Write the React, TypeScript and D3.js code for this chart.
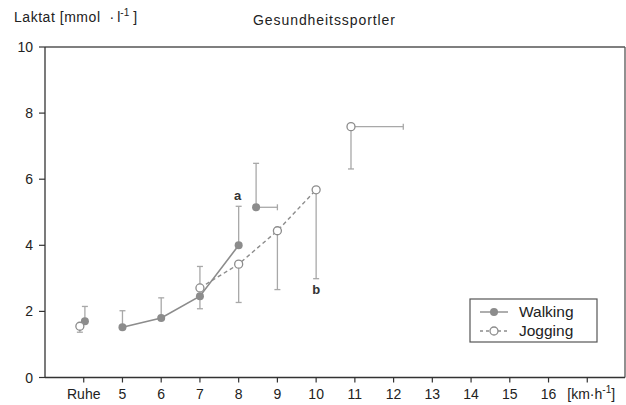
import React from "react";
import * as d3 from "d3";

const xTicks = [4, 5, 6, 7, 8, 9, 10, 11, 12, 13, 14, 15, 16, 17];
const xTickLabels = ["Ruhe", "5", "6", "7", "8", "9", "10", "11", "12", "13", "14", "15", "16", ""];
const yTicks = [0, 2, 4, 6, 8, 10];

// Walking series (filled markers): speed, lactate, SD up/down
const walkSpeed = [5, 6, 7, 8];
const walkLactate = [1.52, 1.8, 2.46, 4.0];
const walkErrUp = [2.02, 2.41, 2.46, 5.18];
const walkErrDown = [1.52, 1.8, 2.08, 4.0];

// Jogging series (open markers)
const jogSpeed = [7, 8, 9, 10];
const jogLactate = [2.71, 3.43, 4.44, 5.68];
const jogErrUp = [3.36, 3.43, 4.44, 5.68];
const jogErrDown = [2.71, 2.27, 2.66, 2.99];

// Rest values
const restWalk = { x: 4.03, y: 1.7, hi: 2.15 };
const restJog = { x: 3.9, y: 1.55, lo: 1.37 };

// Max values (with speed SD to the right)
const maxWalk = { x: 8.45, y: 5.15, xHi: 9.0, yHi: 6.48 };
const maxJog = { x: 10.9, y: 7.59, xHi: 12.25, yLo: 6.31 };

const W = 626;
const H = 405;

export default function App() {
  const x = d3.scaleLinear().domain([3, 18]).range([45, 626]);
  const y = d3.scaleLinear().domain([0, 10]).range([377.5, 47]);
  const line = d3
    .line<[number, number]>()
    .x((d) => x(d[0]))
    .y((d) => y(d[1]));

  const axisCol = "#333";
  const markCol = "#8c8c8c";
  const errCol = "#a8a8a8";
  const font = "'Liberation Sans', Arial, sans-serif";

  const walkPts: [number, number][] = walkSpeed.map((s, i) => [s, walkLactate[i]]);
  const jogPts: [number, number][] = jogSpeed.map((s, i) => [s, jogLactate[i]]);

  const vErr = (xv: number, y1: number, y2: number, key: string) => (
    <g key={key}>
      <line x1={x(xv)} x2={x(xv)} y1={y(y1)} y2={y(y2)} stroke={errCol} strokeWidth={1.3} />
      <line x1={x(xv) - 3} x2={x(xv) + 3} y1={y(y2)} y2={y(y2)} stroke={errCol} strokeWidth={1.3} />
    </g>
  );
  const hErr = (x1: number, x2: number, yv: number, key: string) => (
    <g key={key}>
      <line x1={x(x1)} x2={x(x2)} y1={y(yv)} y2={y(yv)} stroke={errCol} strokeWidth={1.3} />
      <line x1={x(x2)} x2={x(x2)} y1={y(yv) - 3} y2={y(yv) + 3} stroke={errCol} strokeWidth={1.3} />
    </g>
  );

  return (
    <svg width={W} height={H} style={{ position: "absolute", left: 0, top: 0, background: "#fff" }} fontFamily={font}>
      {/* titles */}
      <text x={14} y={22} fontSize={14} fill="#222">
        <tspan textLength={86} lengthAdjust="spacing">Laktat [mmol</tspan>
        <tspan dx={9}>·</tspan>
        <tspan dx={3}>l</tspan>
        <tspan dy={-6} fontSize={10}>-1</tspan>
        <tspan dy={6} dx={4}>]</tspan>
      </text>
      <text x={253} y={25} fontSize={14} fill="#222" textLength={142} lengthAdjust="spacing">
        Gesundheitssportler
      </text>

      {/* frame */}
      <line x1={x(3)} x2={x(18) - 1} y1={y(10)} y2={y(10)} stroke="#555" strokeWidth={1.3} />
      <line x1={x(18) - 1} x2={x(18) - 1} y1={y(10)} y2={y(0)} stroke="#555" strokeWidth={1.3} />
      <line x1={x(3)} x2={x(3)} y1={y(10)} y2={y(0)} stroke={axisCol} strokeWidth={1.3} />
      <line x1={x(3)} x2={x(18) - 1} y1={y(0)} y2={y(0)} stroke={axisCol} strokeWidth={1.3} />

      {/* y ticks */}
      {yTicks.map((t) => (
        <g key={"y" + t}>
          <line x1={x(3) - 6} x2={x(3)} y1={y(t)} y2={y(t)} stroke={axisCol} strokeWidth={1.2} />
          <text x={x(3) - 12} y={y(t) + 5} fontSize={14} textAnchor="end" fill="#222">
            {t}
          </text>
        </g>
      ))}

      {/* x ticks */}
      {xTicks.map((t, i) => (
        <g key={"x" + t}>
          <line x1={x(t)} x2={x(t)} y1={y(0)} y2={y(0) + 5} stroke={axisCol} strokeWidth={1.2} />
          <text x={x(t)} y={399} fontSize={14} textAnchor="middle" fill="#222">
            {xTickLabels[i]}
          </text>
        </g>
      ))}
      <text x={x(17) - 20} y={399} fontSize={14} fill="#222">
        [km
        <tspan>·</tspan>h
        <tspan dy={-6} fontSize={10}>-1</tspan>
        <tspan dy={6}>]</tspan>
      </text>

      {/* error bars */}
      {walkSpeed.map((s, i) =>
        walkErrUp[i] > walkLactate[i]
          ? vErr(s, walkLactate[i], walkErrUp[i], "wu" + i)
          : null
      )}
      {walkSpeed.map((s, i) =>
        walkErrDown[i] < walkLactate[i]
          ? vErr(s, walkLactate[i], walkErrDown[i], "wd" + i)
          : null
      )}
      {jogSpeed.map((s, i) =>
        jogErrUp[i] > jogLactate[i] ? vErr(s, jogLactate[i], jogErrUp[i], "ju" + i) : null
      )}
      {jogSpeed.map((s, i) =>
        jogErrDown[i] < jogLactate[i] ? vErr(s, jogLactate[i], jogErrDown[i], "jd" + i) : null
      )}
      {vErr(restWalk.x, restWalk.y, restWalk.hi, "rw")}
      {vErr(restJog.x, restJog.y, restJog.lo, "rj")}
      {vErr(maxWalk.x, maxWalk.y, maxWalk.yHi, "mwv")}
      {hErr(maxWalk.x, maxWalk.xHi, maxWalk.y, "mwh")}
      {vErr(maxJog.x, maxJog.y, maxJog.yLo, "mjv")}
      {hErr(maxJog.x, maxJog.xHi, maxJog.y, "mjh")}

      {/* lines */}
      <path d={line(jogPts) || ""} fill="none" stroke={markCol} strokeWidth={1.4} strokeDasharray="4,3" />
      <path d={line(walkPts) || ""} fill="none" stroke={markCol} strokeWidth={1.6} />

      {/* markers */}
      {walkPts.map((p, i) => (
        <circle key={"wp" + i} cx={x(p[0])} cy={y(p[1])} r={4} fill={markCol} />
      ))}
      <circle cx={x(restWalk.x)} cy={y(restWalk.y)} r={4} fill={markCol} />
      <circle cx={x(maxWalk.x)} cy={y(maxWalk.y)} r={4} fill={markCol} />
      {jogPts.map((p, i) => (
        <circle key={"jp" + i} cx={x(p[0])} cy={y(p[1])} r={4} fill="#fff" stroke={markCol} strokeWidth={1.3} />
      ))}
      <circle cx={x(restJog.x)} cy={y(restJog.y)} r={4} fill="#fff" stroke={markCol} strokeWidth={1.3} />
      <circle cx={x(maxJog.x)} cy={y(maxJog.y)} r={4} fill="#fff" stroke={markCol} strokeWidth={1.3} />

      {/* annotations */}
      <text x={x(8) - 1} y={200} fontSize={13} fontWeight="bold" textAnchor="middle" fill="#333">
        a
      </text>
      <text x={x(10)} y={294} fontSize={13} fontWeight="bold" textAnchor="middle" fill="#333">
        b
      </text>

      {/* legend */}
      <rect x={470} y={299} width={127} height={43} fill="#fff" stroke="#555" strokeWidth={1.2} />
      <line x1={480} x2={508} y1={312} y2={312} stroke={markCol} strokeWidth={1.4} />
      <circle cx={494} cy={312} r={4} fill={markCol} />
      <text x={519} y={317} fontSize={15.5} fill="#222">
        Walking
      </text>
      <line x1={480} x2={508} y1={331} y2={331} stroke={markCol} strokeWidth={1.3} strokeDasharray="3,3" />
      <circle cx={494} cy={331} r={4} fill="#fff" stroke={markCol} strokeWidth={1.3} />
      <text x={519} y={336} fontSize={15.5} fill="#222">
        Jogging
      </text>
    </svg>
  );
}
